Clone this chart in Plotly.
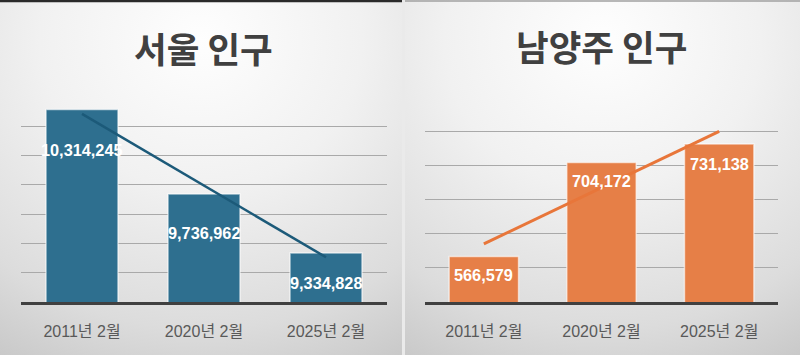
import numpy as np
import plotly.graph_objects as go

# ---- data ----
categories = ["2011년 2월", "2020년 2월", "2025년 2월"]
seoul_pop = [10314245, 9736962, 9334828]
nyj_pop = [566579, 704172, 731138]
seoul_title = "서울 인구"
nyj_title = "남양주 인구"

# ---- axis settings ----
seoul_range = [9000000, 10400000]
seoul_dtick = 200000
nyj_range = [500000, 800000]
nyj_dtick = 50000

# label offsets (px below bar top)
seoul_label_shift = [-40, -39, -30]
nyj_label_shift = [-18, -19, -20]

W, H = 800, 355
BLUE = "#2E6F8F"
BLUE_LINE = "#1C5A79"
ORANGE = "#E67F47"
ORANGE_LINE = "#E8763A"

fig = go.Figure()

# ---- background panels with radial gradient ----
bg_scale = [[0, "#FEFEFE"], [0.4, "#F1F1F1"], [0.78, "#DCDCDC"], [1, "#C8C8C8"]]


def bg_panel(xa, ya, pw):
    cx, cy, rx, ry = pw / 2, H - 40, pw * 1.0, 370
    xs = [cx - rx, cx + rx, cx + rx, cx - rx, cx - rx]
    ys = [cy - ry, cy - ry, cy + ry, cy + ry, cy - ry]
    fig.add_trace(go.Scatter(x=xs, y=ys, xaxis=xa, yaxis=ya, mode="lines",
                             line=dict(width=0), fill="toself",
                             fillgradient=dict(type="radial", colorscale=bg_scale),
                             hoverinfo="skip", showlegend=False))


LW = 402
RX0 = 405
bg_panel("x", "y", LW)
bg_panel("x2", "y2", W - RX0)


def add_chart(xa, ya, vals, color, line_color, line_w, shifts):
    fig.add_trace(go.Bar(x=categories, y=vals, xaxis=xa, yaxis=ya,
                         marker=dict(color=color, line=dict(color="rgba(255,255,255,0.6)", width=1.5)),
                         width=0.59, showlegend=False, hoverinfo="skip"))
    idx = np.arange(len(vals))
    k, b = np.polyfit(idx, np.array(vals, dtype=float), 1)
    trend = k * idx + b
    fig.add_trace(go.Scatter(x=[categories[0], categories[-1]], y=[trend[0], trend[-1]],
                             xaxis=xa, yaxis=ya, mode="lines",
                             line=dict(color=line_color, width=line_w),
                             showlegend=False, hoverinfo="skip"))
    for c, v, s in zip(categories, vals, shifts):
        fig.add_annotation(x=c, y=v, xref=xa, yref=ya, text=f"<b>{v:,}</b>",
                           showarrow=False, yanchor="middle", yshift=s,
                           font=dict(family="Liberation Sans, Arial", size=16.3, color="white"))


add_chart("x3", "y3", seoul_pop, BLUE, BLUE_LINE, 2.5, seoul_label_shift)
add_chart("x4", "y4", nyj_pop, ORANGE, ORANGE_LINE, 3, nyj_label_shift)

ydom = [53 / H, 258 / H]
cat_axis = dict(type="category", showgrid=False, showline=True, linecolor="#404040", linewidth=2.5,
                ticks="", tickfont=dict(family="Liberation Sans, Noto Sans CJK KR", size=16, color="#595959"),
                ticklabelstandoff=13, fixedrange=True)
val_axis = dict(showticklabels=False, ticks="", showgrid=True, gridcolor="#A9A9A9", gridwidth=1.3,
                zeroline=False, showline=False, fixedrange=True, domain=ydom)
hidden = dict(visible=False, fixedrange=True)

fig.update_layout(
    width=W, height=H, margin=dict(l=0, r=0, t=0, b=0),
    paper_bgcolor="#EAEAEA", plot_bgcolor="rgba(0,0,0,0)",
    xaxis=dict(hidden, domain=[0, LW / W], range=[0, LW]),
    yaxis=dict(hidden, domain=[0, 1], range=[0, H]),
    xaxis2=dict(hidden, domain=[RX0 / W, 1], range=[0, W - RX0]),
    yaxis2=dict(hidden, domain=[0, 1], range=[0, H]),
    xaxis3=dict(cat_axis, domain=[21 / W, 387 / W], anchor="y3"),
    yaxis3=dict(val_axis, range=seoul_range, dtick=seoul_dtick, tick0=seoul_range[0], anchor="x3"),
    xaxis4=dict(cat_axis, domain=[425 / W, 778 / W], anchor="y4"),
    yaxis4=dict(val_axis, range=nyj_range, dtick=nyj_dtick, tick0=nyj_range[0], anchor="x4"),
    bargap=0.41,
)

title_font = dict(family="Noto Sans CJK KR", size=35.5, color="#404040")
fig.add_annotation(x=203.5 / W, y=1 - 47 / H, xref="paper", yref="paper", text=f"<b>{seoul_title}</b>",
                   showarrow=False, xanchor="center", yanchor="middle", font=title_font)
fig.add_annotation(x=601.7 / W, y=1 - 45 / H, xref="paper", yref="paper", text=f"<b>{nyj_title}</b>",
                   showarrow=False, xanchor="center", yanchor="middle", font=title_font)

# panel top borders
fig.add_shape(type="line", xref="paper", yref="paper", x0=0, x1=LW / W, y0=1 - 1 / H, y1=1 - 1 / H,
              line=dict(color="#2A2A2A", width=2.5))
fig.add_shape(type="line", xref="paper", yref="paper", x0=RX0 / W, x1=1, y0=1 - 1 / H, y1=1 - 1 / H,
              line=dict(color="#A0A0A0", width=1.5))

fig.write_html("out.html", config={"displayModeBar": False},
               post_script="document.body.style.margin='0px';document.body.style.overflow='hidden';")
